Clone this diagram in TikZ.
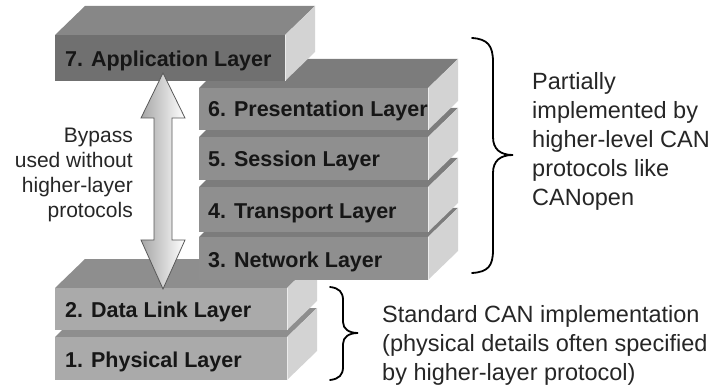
\documentclass[tikz,border=0pt]{standalone}
\usepackage{fontspec}
\setmainfont{Liberation Sans}
\definecolor{labelc}{HTML}{161616}
\definecolor{fsev}{HTML}{707070}
\definecolor{tsev}{HTML}{878787}
\definecolor{fmid}{HTML}{8F8F8F}
\definecolor{tmid}{HTML}{7C7C7C}
\definecolor{flow}{HTML}{AAAAAA}
\definecolor{tlow}{HTML}{8E8E8E}
\definecolor{sidec}{HTML}{D3D3D3}
\newcommand\drawslab[6]{%
  \fill[#6] (#1,#3) -- (#2,#3) -- (#2+30,#3-29) -- (#1+30,#3-29) -- cycle;
  \fill[sidec] (#2,#3) -- (#2+30,#3-29) -- (#2+30,#4-29) -- (#2,#4) -- cycle;
  \fill[#5] (#1,#3) rectangle (#2,#4);
  \draw[white!85!gray, line width=0.8pt] (#2,#3) -- (#2,#4);
}
\tikzset{
  lay/.style={anchor=base west, inner sep=0pt, text=labelc, font=\fontsize{21.5}{25}\selectfont\bfseries},
  bracec/.style={line width=1.8pt, black, line cap=round},
  side/.style={inner sep=0pt, text=black!85, font=\fontsize{23.5}{29}\selectfont}
}
\begin{document}
\begin{tikzpicture}[x=1pt,y=-1pt]
\useasboundingbox (0,0) rectangle (714,387);
% lower stack
\drawslab{55}{287}{337}{380}{flow}{tlow}
\drawslab{55}{287}{288}{330}{flow}{tlow}
% middle stack
\drawslab{199}{428}{237}{280}{fmid}{tmid}
\drawslab{199}{428}{187}{232}{fmid}{tmid}
\drawslab{199}{428}{137}{180}{fmid}{tmid}
\drawslab{199}{428}{88}{130}{fmid}{tmid}
% top block
\drawslab{55}{285}{35}{81}{fsev}{tsev}
% labels
\node[lay] (l7) at (65,67) {7. Application Layer};
\node[lay] (l6) at (208,117) {6. Presentation Layer};
\node[lay] (l5) at (208,167) {5. Session Layer};
\node[lay] (l4) at (208,219) {4. Transport Layer};
\node[lay] (l3) at (208,267) {3. Network Layer};
\node[lay] (l2) at (65,317) {2. Data Link Layer};
\node[lay] (l1) at (65,367) {1. Physical Layer};
% bypass arrow
\shade[left color=black!35, right color=white, draw=black!65, line width=0.8pt, line join=miter]
  (163,73) -- (185,118) -- (172,118) -- (172,240) -- (185,240) -- (163,289)
  -- (141,240) -- (154,240) -- (154,118) -- (141,118) -- cycle;
\node[anchor=north east, inner sep=0pt, align=right, text=black!85,
      font=\fontsize{21}{25}\selectfont] (bypass) at (133,128)
  {Bypass\\used without\\higher-layer\\protocols};
% braces
\draw[bracec] (472,38) .. controls (488,39) and (493,46) .. (493,62) -- (493,137)
  .. controls (493,149) and (500,155) .. (513,155)
  .. controls (500,155) and (493,161) .. (493,173) -- (493,250)
  .. controls (493,266) and (488,272) .. (472,273);
\draw[bracec] (330,287) .. controls (339,288) and (343,292) .. (343,300) -- (343,322)
  .. controls (343,329) and (349,333) .. (358,333)
  .. controls (349,333) and (343,337) .. (343,344) -- (343,367)
  .. controls (343,375) and (339,379) .. (330,380);
\node[side, anchor=north west, align=left] (t1) at (532,72)
  {Partially\\implemented by\\higher-level CAN\\protocols like\\CANopen};
\node[side, anchor=north west, align=left] (t2) at (382,305)
  {Standard CAN implementation\\(physical details often specified\\by higher-layer protocol)};
\end{tikzpicture}
\end{document}
